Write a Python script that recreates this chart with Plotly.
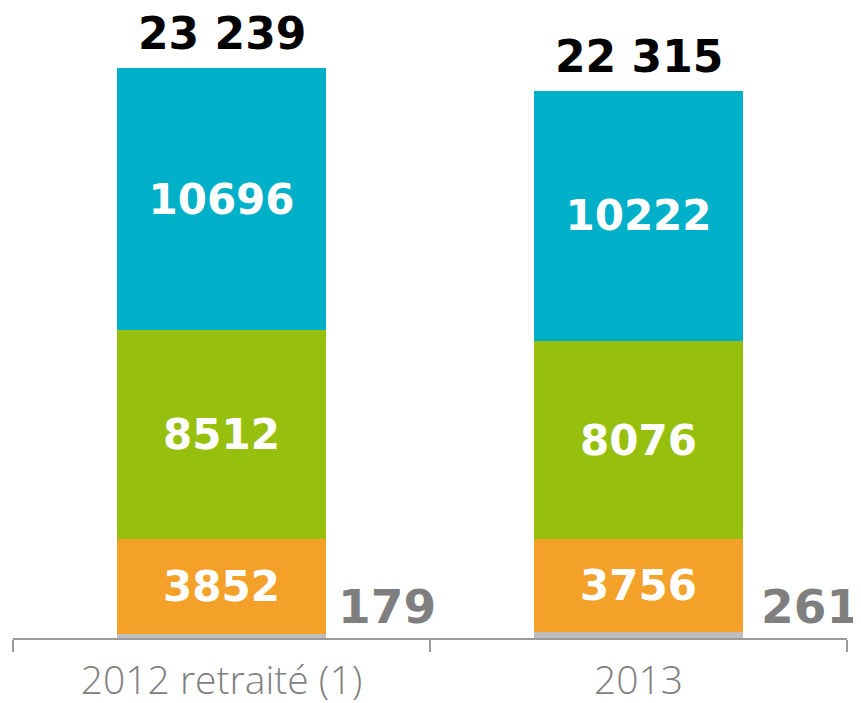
import plotly.graph_objects as go

categories = ["2012 retraité (1)", "2013"]
grey_vals = [179, 261]
orange_vals = [3852, 3756]
green_vals = [8512, 8076]
cyan_vals = [10696, 10222]
totals = [23239, 22315]
total_labels = ["23 239", "22 315"]

BOLD = "DejaVu Sans"

fig = go.Figure()
series = [
    (grey_vals, "#BEBEBE", False),
    (orange_vals, "#F4A12A", True),
    (green_vals, "#97BF0D", True),
    (cyan_vals, "#00B0C8", True),
]
for vals, col, show in series:
    fig.add_trace(go.Bar(
        x=categories, y=vals, marker=dict(color=col, line=dict(width=0)),
        text=[str(v) for v in vals] if show else None,
        textposition="inside" if show else "none",
        insidetextanchor="middle", textangle=0,
        textfont=dict(family=BOLD, size=42, color="white", weight=700),
        hoverinfo="skip", showlegend=False,
    ))

for i, (t, lab) in enumerate(zip(totals, total_labels)):
    fig.add_annotation(x=i, y=t, text=lab, showarrow=False, xref="x", yref="y",
                       yanchor="bottom", yshift=7,
                       font=dict(family=BOLD, size=44, color="black", weight=700))

side_shifts = [114, 120]
for i, v in enumerate(grey_vals):
    fig.add_annotation(x=i, y=0, text=str(v), showarrow=False, xref="x", yref="y",
                       xanchor="left", yanchor="bottom", xshift=side_shifts[i], yshift=2,
                       font=dict(family=BOLD, size=47, color="#7F7F7F", weight=700))

fig.update_layout(
    barmode="stack", bargap=0.5,
    width=853, height=695,
    margin=dict(l=5, r=14, t=0, b=65),
    paper_bgcolor="white", plot_bgcolor="white",
    xaxis=dict(type="category", range=[-0.5, 1.5], automargin=False,
               showline=True, linecolor="#9A9A9A", linewidth=1.5,
               ticks="outside", tickson="boundaries", ticklen=12, tickcolor="#9A9A9A",
               tickwidth=1.5, tickangle=0, ticklabelstandoff=7,
               tickfont=dict(family="Open Sans", size=39, color="#808080", weight=300),
               showgrid=False, zeroline=False),
    yaxis=dict(range=[0, 25683], visible=False, showgrid=False, zeroline=False,
               automargin=False),
)

fig.write_html("out.html")
